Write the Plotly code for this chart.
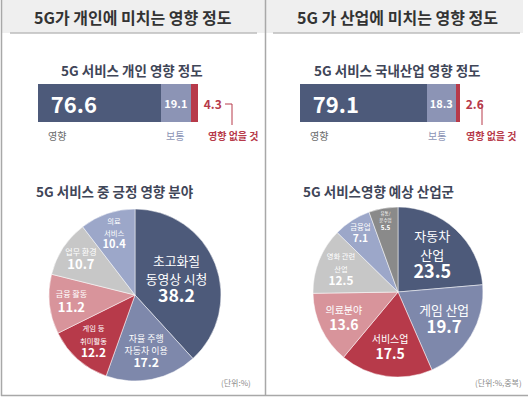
import plotly.graph_objects as go

W, H = 528, 397
FONT = "Noto Sans CJK KR"

# ---------------- data ----------------
bar_labels = ["영향", "보통", "영향 없을 것"]
bar_left_values = [76.6, 19.1, 4.3]
bar_right_values = [79.1, 18.3, 2.6]

pie_left_labels = ["초고화질<br>동영상 시청", "자율 주행<br>자동차 이용", "게임 등<br>취미활동", "금융 활동", "업무 환경", "의료<br>서비스"]
pie_left_values = [38.2, 17.2, 12.2, 11.2, 10.7, 10.4]

pie_right_labels = ["자동차<br>산업", "게임 산업", "서비스업", "의료분야", "영화 관련<br>산업", "금융업", "유통/<br>운수업"]
pie_right_values = [23.5, 19.7, 17.5, 13.6, 12.5, 7.1, 5.5]

# ---------------- styles ----------------
DARK = "#4d5a7a"
BARLIGHT = "#8c94b5"
RED = "#b73a4a"
SLATE = "#7e88ab"
PINK = "#d8949b"
LGRAY = "#c7c7c7"
LSLATE = "#9ca7c9"
DGRAY = "#8a8a8a"

bar_colors = [DARK, BARLIGHT, RED]
pie_left_colors = [DARK, SLATE, RED, PINK, LGRAY, LSLATE]
pie_right_colors = [DARK, SLATE, RED, PINK, LGRAY, LSLATE, DGRAY]
# label-line size, value size, base (line spacing) size
pie_left_lsize = [13, 11, 8, 8, 8, 8]
pie_left_vsize = [18, 15, 13, 13, 13, 12]
pie_left_bsize = [14, 12, 11, 11, 11, 10]
pie_right_lsize = [13, 13, 10, 10, 8, 8, 7]
pie_right_vsize = [18, 17, 14, 14, 13, 11, 10]
pie_right_bsize = [14, 14, 12, 12, 11, 10, 9]


def px(x):
    return x / W


def py(y):
    return 1 - y / H


def pie_text(labels, values, lsizes, vsizes):
    out = []
    for lab, v, ls, vs in zip(labels, values, lsizes, vsizes):
        lines = [f"<span style='font-size:{ls}px'>{l}</span>" for l in lab.split("<br>")]
        lines.append(f"<span style='font-size:{vs}px'><b>{v}</b></span>")
        out.append("<br>".join(lines))
    return out


fig = go.Figure()

# ---------------- stacked bars ----------------
bar_text_sizes = [22, 11, 12]
for side, vals, xa, ya in [("L", bar_left_values, "x", "y"), ("R", bar_right_values, "x2", "y2")]:
    for i, (lab, v) in enumerate(zip(bar_labels, vals)):
        if i == 0:
            tp, anchor, col, tt = "inside", "start", "white", "\u00a0\u00a0<b>%{text}</b>"
        elif i == 1:
            tp, anchor, col, tt = "inside", "middle", "white", "<b>%{text}</b>"
        else:
            tp, anchor, col, tt = "outside", "start", RED, "\u00a0<b>%{text}</b>"
        fig.add_trace(go.Bar(
            x=[v], y=[0], orientation="h", name=lab,
            marker=dict(color=bar_colors[i], line=dict(width=0)),
            text=[f"{v}"], texttemplate=tt,
            textposition=tp, insidetextanchor=anchor,
            textfont=dict(color=col, size=bar_text_sizes[i], family=FONT),
            constraintext="none", cliponaxis=False,
            width=1, showlegend=False, hoverinfo="skip",
            xaxis=xa, yaxis=ya,
        ))

bar_y0, bar_y1 = 84, 122
fig.update_layout(
    barmode="stack",
    xaxis=dict(domain=[px(38), px(198)], range=[0, 100], visible=False, fixedrange=True),
    yaxis=dict(domain=[py(bar_y1), py(bar_y0)], range=[-0.5, 0.5], visible=False),
    xaxis2=dict(domain=[px(300), px(460)], range=[0, 100], visible=False, anchor="y2"),
    yaxis2=dict(domain=[py(bar_y1), py(bar_y0)], range=[-0.5, 0.5], visible=False, anchor="x2"),
)

# ---------------- pies ----------------
fig.add_trace(go.Pie(
    labels=[l.replace("<br>", " ") for l in pie_left_labels], values=pie_left_values,
    text=pie_text(pie_left_labels, pie_left_values, pie_left_lsize, pie_left_vsize),
    textinfo="text", textposition="inside", insidetextorientation="horizontal",
    insidetextfont=dict(color="white", family=FONT, size=pie_left_bsize),
    marker=dict(colors=pie_left_colors, line=dict(color="white", width=0.5)),
    sort=False, direction="clockwise", rotation=0,
    domain=dict(x=[px(49), px(221)], y=[py(381), py(209)]),
    showlegend=False, hoverinfo="skip",
))
fig.add_trace(go.Pie(
    labels=[l.replace("<br>", " ") for l in pie_right_labels], values=pie_right_values,
    text=pie_text(pie_right_labels, pie_right_values, pie_right_lsize, pie_right_vsize),
    textinfo="text", textposition="inside", insidetextorientation="horizontal",
    insidetextfont=dict(color="white", family=FONT, size=pie_right_bsize),
    marker=dict(colors=pie_right_colors, line=dict(color="white", width=0.5)),
    sort=False, direction="clockwise", rotation=0,
    domain=dict(x=[px(313), px(483)], y=[py(377), py(207)]),
    showlegend=False, hoverinfo="skip",
))

# ---------------- decorations ----------------
shapes = []
# title bands
for x0, x1 in [(2, 265), (266, 523)]:
    shapes.append(dict(type="rect", xref="paper", yref="paper", x0=px(x0), x1=px(x1), y0=py(33), y1=py(0),
                       fillcolor="#efefef", line=dict(width=0), layer="below"))
for x0, x1 in [(10, 257), (273, 520)]:
    shapes.append(dict(type="line", xref="paper", yref="paper", x0=px(x0), x1=px(x1), y0=py(33), y1=py(33),
                       line=dict(color="#bdbdbd", width=1.5)))
# panel borders
for x in [1.5, 265.5]:
    shapes.append(dict(type="line", xref="paper", yref="paper", x0=px(x), x1=px(x), y0=py(396), y1=py(0),
                       line=dict(color="#a8a8a8", width=1.5)))
shapes.append(dict(type="line", xref="paper", yref="paper", x0=px(1), x1=px(528), y0=py(395.5), y1=py(395.5),
                   line=dict(color="#a8a8a8", width=1.5)))
# red connectors
for xa, xb in [(225, 232), (478, 482)]:
    shapes.append(dict(type="path", xref="paper", yref="paper",
                       path=f"M {px(xa)},{py(104)} L {px(xb)},{py(104)} L {px(xb)},{py(125)}",
                       line=dict(color=RED, width=1)))

annotations = []


def ann(text, x, y, size, color, xanchor="center", bold=True):
    annotations.append(dict(text=f"<b>{text}</b>" if bold else text, x=px(x), y=py(y), xref="paper", yref="paper",
                            showarrow=False, xanchor=xanchor, yanchor="middle",
                            font=dict(family=FONT, size=size, color=color)))


ann("5G가 개인에 미치는 영향 정도", 133, 17, 16, "#333333")
ann("5G 가 산업에 미치는 영향 정도", 397, 17, 16, "#333333")
ann("5G 서비스 개인 영향 정도", 132, 70, 13.5, "#3f4658")
ann("5G 서비스 국내산업 영향 정도", 397, 70, 13.5, "#3f4658")
ann("5G 서비스 중 긍정 영향 분야", 115, 191, 13.5, "#3f4658")
ann("5G 서비스영향 예상 산업군", 378, 191, 13.5, "#3f4658")

# bar category labels
ann(bar_labels[0], 46, 135, 10, "#6b6b6b", "left", bold=False)
ann(bar_labels[1], 175, 135, 10, "#8c94b5", "center", bold=False)
ann(bar_labels[2], 206, 135, 10, RED, "left")
ann(bar_labels[0], 308, 135, 10, "#6b6b6b", "left", bold=False)
ann(bar_labels[1], 437, 135, 10, "#8c94b5", "center", bold=False)
ann(bar_labels[2], 464, 135, 10, RED, "left")

ann("(단위:%)", 253, 382, 8, "#8a8a8a", "right", bold=False)
ann("(단위:%,중복)", 524, 382, 8, "#8a8a8a", "right", bold=False)

fig.update_layout(
    width=W, height=H,
    margin=dict(l=0, r=0, t=0, b=0),
    paper_bgcolor="white", plot_bgcolor="rgba(0,0,0,0)",
    shapes=shapes, annotations=annotations,
    font=dict(family=FONT),
)

fig.write_html("out.html", config={"displayModeBar": False},
               post_script="document.body.style.margin='0';document.body.style.overflow='hidden';")
